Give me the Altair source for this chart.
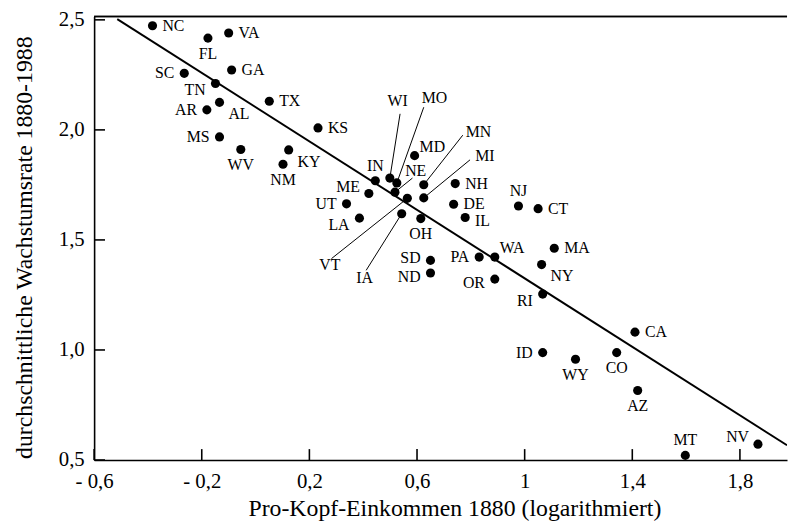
import altair as alt
import pandas as pd

# ---------------- data ----------------
states = ["NC", "FL", "VA", "GA", "SC", "TN", "TX", "AR", "AL", "KS",
          "MS", "WV", "KY", "NM", "IN", "ME", "UT", "LA", "WI", "MO",
          "NE", "VT", "MN", "MI", "MD", "IA", "OH", "NH", "DE", "IL",
          "SD", "ND", "PA", "WA", "OR", "NJ", "CT", "MA", "NY", "RI",
          "CA", "ID", "WY", "CO", "AZ", "MT", "NV"]
income = [-0.383, -0.177, -0.100, -0.089, -0.265, -0.149, 0.051, -0.181, -0.134, 0.232,
          -0.134, -0.055, 0.123, 0.102, 0.445, 0.421, 0.338, 0.386, 0.499, 0.525,
          0.518, 0.564, 0.625, 0.625, 0.591, 0.543, 0.614, 0.742, 0.736, 0.779,
          0.650, 0.650, 0.831, 0.889, 0.889, 0.977, 1.050, 1.110, 1.063, 1.067,
          1.410, 1.067, 1.189, 1.342, 1.420, 1.597, 1.867]
growth = [2.473, 2.417, 2.440, 2.272, 2.257, 2.211, 2.130, 2.091, 2.125, 2.009,
          1.968, 1.911, 1.909, 1.844, 1.769, 1.711, 1.664, 1.599, 1.781, 1.759,
          1.717, 1.689, 1.751, 1.691, 1.883, 1.619, 1.597, 1.756, 1.662, 1.602,
          1.407, 1.350, 1.422, 1.422, 1.322, 1.654, 1.642, 1.462, 1.388, 1.254,
          1.081, 0.988, 0.958, 0.988, 0.816, 0.521, 0.572]
# where each state's label sits relative to its point (codes, see PLACE below)
placement = ["r", "b", "r", "r", "l", "bl", "r", "l", "br", "r",
             "l", "b", "br", "b", "a", "al", "l", "bl", "lead", "lead",
             "lead", "lead", "lead", "lead", "ar", "lead", "b", "r", "r", "rd",
             "lu", "ld", "l", "ar", "ld", "a", "r", "r", "br", "bl",
             "r", "l", "b", "b", "b", "a", "al"]

# labels placed away from their points, joined by leader lines (data units)
leader_states = ["WI", "MO", "MN", "MI", "NE", "VT", "IA"]
leader_label_x = [0.528, 0.665, 0.828, 0.852, 0.595, 0.276, 0.405]
leader_label_y = [2.129, 2.143, 1.991, 1.883, 1.814, 1.385, 1.325]
leader_start_x = [0.537, 0.625, 0.770, 0.797, 0.583, 0.282, 0.411]
leader_start_y = [2.073, 2.103, 1.976, 1.864, 1.781, 1.415, 1.362]

# regression line end points
reg_x = [-0.514, 1.975]
reg_y = [2.503, 0.567]

x_ticks = [-0.6, -0.2, 0.2, 0.6, 1.0, 1.4, 1.8]
x_tick_labels = ["- 0,6", "- 0,2", "0,2", "0,6", "1", "1,4", "1,8"]
y_ticks = [0.5, 1.0, 1.5, 2.0, 2.5]
y_tick_labels = ["0,5", "1,0", "1,5", "2,0", "2,5"]

x_title = "Pro-Kopf-Einkommen 1880 (logarithmiert)"
y_title = "durchschnittliche Wachstumsrate 1880-1988"

# ---------------- styling ----------------
FONT = "Liberation Serif"
W, H = 700, 448
X_DOMAIN = [-0.6, 1.975]
Y_DOMAIN = [0.5, 2.515]

PLACE = {
    "r": dict(dx=10, dy=0, align="left"),
    "rd": dict(dx=10, dy=4, align="left"),
    "l": dict(dx=-10, dy=0, align="right"),
    "lu": dict(dx=-10, dy=-2, align="right"),
    "ld": dict(dx=-10, dy=4, align="right"),
    "b": dict(dx=0, dy=16, align="center"),
    "a": dict(dx=0, dy=-15, align="center"),
    "br": dict(dx=9, dy=12, align="left"),
    "bl": dict(dx=-10, dy=7, align="right"),
    "ar": dict(dx=5, dy=-9, align="left"),
    "al": dict(dx=-9, dy=-7, align="right"),
}


def label_expr(values, labels):
    expr = "''"
    for v, l in reversed(list(zip(values, labels))):
        expr = f"abs(datum.value - ({v})) < 1e-6 ? '{l}' : ({expr})"
    return expr


xs = alt.Scale(domain=X_DOMAIN, nice=False, zero=False)
ys = alt.Scale(domain=Y_DOMAIN, nice=False, zero=False)

xaxis = alt.Axis(values=x_ticks, labelExpr=label_expr(x_ticks, x_tick_labels),
                 title=x_title, ticks=False, grid=False,
                 domainColor="black", domainWidth=1.6,
                 labelFont=FONT, labelFontSize=21, labelColor="black",
                 labelBaseline="alphabetic", labelPadding=28,
                 labelFlush=False, labelOverlap=False,
                 titleFont=FONT, titleFontSize=24, titleFontWeight="normal",
                 titleColor="black", titleX=364, titleY=56,
                 titleBaseline="alphabetic", titleAlign="center")
yaxis = alt.Axis(values=y_ticks, labelExpr=label_expr(y_ticks, y_tick_labels),
                 title=y_title, ticks=False, grid=False,
                 domainColor="black", domainWidth=1.6,
                 labelFont=FONT, labelFontSize=21, labelColor="black",
                 labelBaseline="middle", labelAlign="right", labelPadding=10,
                 labelFlush=False, labelOverlap=False,
                 titleFont=FONT, titleFontSize=24, titleFontWeight="normal",
                 titleColor="black", titleX=-63, titleY=233,
                 titleAngle=270, titleBaseline="alphabetic", titleAlign="center")


def X(field):
    return alt.X(f"{field}:Q", scale=xs, axis=xaxis)


def Y(field):
    return alt.Y(f"{field}:Q", scale=ys, axis=yaxis)


df = pd.DataFrame({"state": states, "x": income, "y": growth, "pos": placement})
lead = pd.DataFrame({"state": leader_states, "lx": leader_label_x, "ly": leader_label_y,
                     "sx": leader_start_x, "sy": leader_start_y})
lead = lead.merge(df[["state", "x", "y"]], on="state")
reg = pd.DataFrame({"x": reg_x, "y": reg_y})
xt = pd.DataFrame({"v": x_ticks})
yt = pd.DataFrame({"v": y_ticks})

layers = []

# regression line
layers.append(alt.Chart(reg).mark_line(color="black", strokeWidth=2, clip=True)
              .encode(x=X("x"), y=Y("y")))

# leader lines
layers.append(alt.Chart(lead).mark_rule(color="black", strokeWidth=1)
              .encode(x=X("sx"), y=Y("sy"), x2="x", y2="y"))

# points
layers.append(alt.Chart(df).mark_circle(size=85, color="black", opacity=1)
              .encode(x=X("x"), y=Y("y")))

# labels next to points
for code, st in PLACE.items():
    layers.append(alt.Chart(df).transform_filter(alt.datum.pos == code)
                  .mark_text(font=FONT, fontSize=16, color="black",
                             baseline="middle", **st)
                  .encode(x=X("x"), y=Y("y"), text="state:N"))

# labels at the end of leader lines
layers.append(alt.Chart(lead).mark_text(font=FONT, fontSize=16, color="black",
                                        baseline="middle", align="center")
              .encode(x=X("lx"), y=Y("ly"), text="state:N"))

# inward tick marks
layers.append(alt.Chart(xt).mark_rule(color="black", strokeWidth=1.6)
              .encode(x=X("v"), y=alt.value(H), y2=alt.value(H - 11)))
layers.append(alt.Chart(yt).mark_rule(color="black", strokeWidth=1.6)
              .encode(y=Y("v"), x=alt.value(0), x2=alt.value(11)))

# top frame line
layers.append(alt.Chart(reg).mark_rule(color="black", strokeWidth=1.6)
              .encode(x=alt.value(0), x2=alt.value(W), y=alt.value(0)))

chart = (alt.layer(*layers)
         .properties(width=W, height=H,
                     autosize=alt.AutoSizeParams(type="none"),
                     padding={"left": 87, "top": 6, "right": 2, "bottom": 61})
         .configure_view(strokeWidth=0))

chart.save("out.html", embed_options={"renderer": "svg", "actions": False})
